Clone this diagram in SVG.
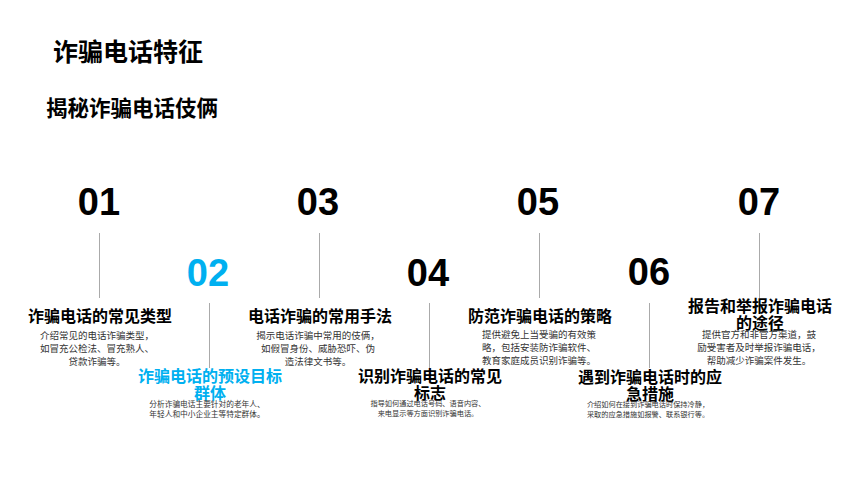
<svg xmlns="http://www.w3.org/2000/svg" width="860" height="484" viewBox="0 0 860 484">
<style>
.cjk{font-family:"Noto Sans CJK SC","Liberation Sans",sans-serif}
.title{font-size:25px;font-weight:700;fill:#000}
.sub{font-size:21.5px;font-weight:700;fill:#000}
.num{font-family:"Liberation Sans",Arial,sans-serif;font-size:38px;font-weight:700;fill:#000;text-anchor:middle}
.head{font-size:16px;font-weight:700;fill:#000;text-anchor:middle}
.desc{font-size:9.5px;fill:#333;text-anchor:middle}
.small{font-size:7.2px;fill:#333;text-anchor:middle}
.blue{fill:#00B0F0}
.conn{stroke:#aaaaaa;stroke-width:1;fill:none}
</style>
<rect width="860" height="484" fill="#fff"/>
<text class="cjk title" x="53" y="61">诈骗电话特征</text>
<text class="cjk sub" x="46" y="116">揭秘诈骗电话伎俩</text>
<g id="connectors">
<line class="conn" x1="99.5" y1="233" x2="99.5" y2="298"/>
<line class="conn" x1="209.5" y1="303" x2="209.5" y2="368"/>
<line class="conn" x1="319.5" y1="233" x2="319.5" y2="298"/>
<line class="conn" x1="429.5" y1="303" x2="429.5" y2="368"/>
<line class="conn" x1="539.5" y1="233" x2="539.5" y2="298"/>
<line class="conn" x1="649.5" y1="303" x2="649.5" y2="368"/>
<line class="conn" x1="759.5" y1="233" x2="759.5" y2="298"/>
</g>
<g id="node01">
<text class="num" x="99" y="215">01</text>
<text class="cjk head" x="100" y="322">诈骗电话的常见类型</text>
<text class="cjk desc" x="97" y="339">介绍常见的电话诈骗类型，</text>
<text class="cjk desc" x="97" y="352">如冒充公检法、冒充熟人、</text>
<text class="cjk desc" x="97" y="365">贷款诈骗等。</text>
</g>
<g id="node02">
<text class="num blue" x="208" y="286">02</text>
<text class="cjk head blue" x="210" y="382">诈骗电话的预设目标</text>
<text class="cjk head blue" x="210" y="399">群体</text>
<text class="cjk small" x="207" y="407" style="font-size:7.7px">分析诈骗电话主要针对的老年人、</text>
<text class="cjk small" x="207" y="417" style="font-size:7.7px">年轻人和中小企业主等特定群体。</text>
</g>
<g id="node03">
<text class="num" x="318" y="215">03</text>
<text class="cjk head" x="320" y="322">电话诈骗的常用手法</text>
<text class="cjk desc" x="318" y="339">揭示电话诈骗中常用的伎俩，</text>
<text class="cjk desc" x="318" y="352">如假冒身份、威胁恐吓、伪</text>
<text class="cjk desc" x="318" y="365">造法律文书等。</text>
</g>
<g id="node04">
<text class="num" x="428" y="286">04</text>
<text class="cjk head" x="430" y="382">识别诈骗电话的常见</text>
<text class="cjk head" x="430" y="399">标志</text>
<text class="cjk small" x="428" y="406">指导如何通过电话号码、语音内容、</text>
<text class="cjk small" x="428" y="416">来电显示等方面识别诈骗电话。</text>
</g>
<g id="node05">
<text class="num" x="538" y="215">05</text>
<text class="cjk head" x="540" y="322">防范诈骗电话的策略</text>
<text class="cjk desc" x="539" y="338">提供避免上当受骗的有效策</text>
<text class="cjk desc" x="539" y="351">略，包括安装防诈骗软件、</text>
<text class="cjk desc" x="539" y="364">教育家庭成员识别诈骗等。</text>
</g>
<g id="node06">
<text class="num" x="649" y="285">06</text>
<text class="cjk head" x="650" y="383">遇到诈骗电话时的应</text>
<text class="cjk head" x="650" y="400">急措施</text>
<text class="cjk small" x="648" y="407">介绍如何在接到诈骗电话时保持冷静，</text>
<text class="cjk small" x="648" y="417">采取的应急措施如报警、联系银行等。</text>
</g>
<g id="node07">
<text class="num" x="759" y="215">07</text>
<text class="cjk head" x="760" y="312">报告和举报诈骗电话</text>
<text class="cjk head" x="760" y="329">的途径</text>
<text class="cjk desc" x="759" y="338">提供官方和非官方渠道，鼓</text>
<text class="cjk desc" x="759" y="351">励受害者及时举报诈骗电话，</text>
<text class="cjk desc" x="759" y="364">帮助减少诈骗案件发生。</text>
</g>
</svg>
